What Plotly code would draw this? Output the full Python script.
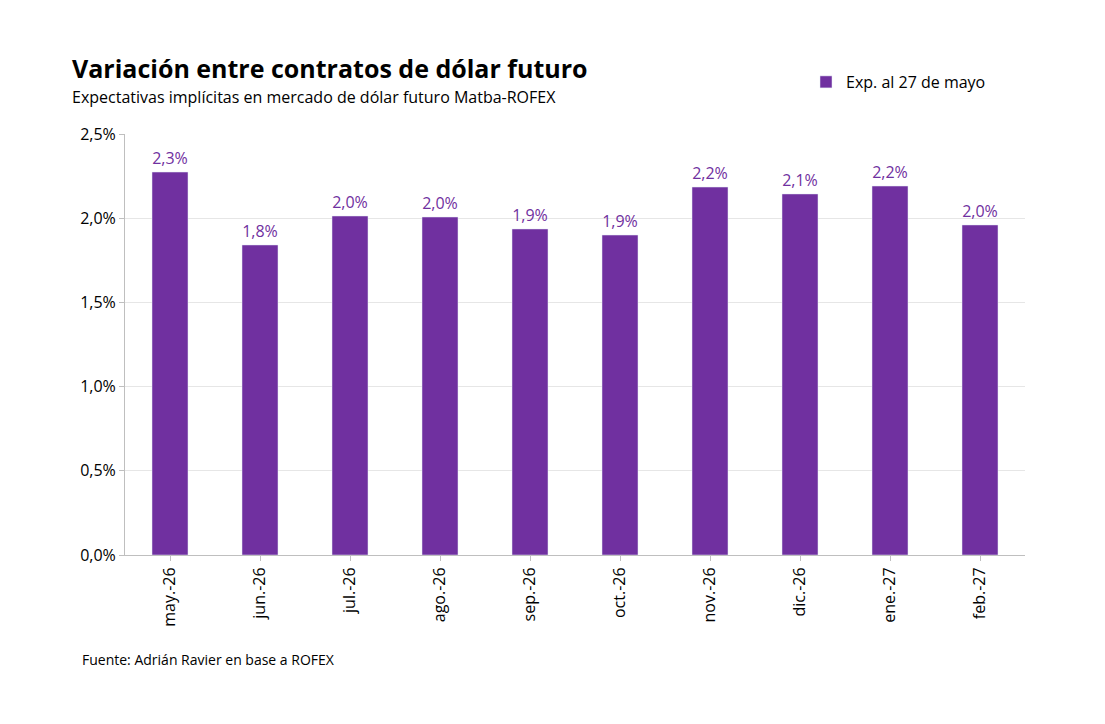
import plotly.graph_objects as go

months = ["may.-26", "jun.-26", "jul.-26", "ago.-26", "sep.-26", "oct.-26",
          "nov.-26", "dic.-26", "ene.-27", "feb.-27"]
variation = [2.274, 1.841, 2.013, 2.007, 1.936, 1.900, 2.185, 2.144, 2.191, 1.960]
labels = ["2,3%", "1,8%", "2,0%", "2,0%", "1,9%", "1,9%", "2,2%", "2,1%", "2,2%", "2,0%"]
tick_vals = [0, 0.5, 1.0, 1.5, 2.0, 2.5]
tick_text = ["0,0%", "0,5%", "1,0%", "1,5%", "2,0%", "2,5%"]

purple = "#7030A0"
fnt = "Open Sans, Lato, sans-serif"

L, R, T, B = 117, 88, 126, 177
pw, ph = 1105 - L - R, 724 - T - B
def px(x): return (x - 8 - L) / pw
def py(y): return (724 - B - (y - 8)) / ph

fig = go.Figure(go.Bar(
    x=months, y=variation, text=labels, textposition="outside",
    textfont=dict(color=purple, size=16, family=fnt),
    marker_color=purple, width=0.4, name="Exp. al 27 de mayo",
    cliponaxis=False, showlegend=True))

fig.update_layout(
    width=1105, height=724, plot_bgcolor="white", paper_bgcolor="white",
    margin=dict(l=L, r=R, t=T, b=B),
    font=dict(family=fnt, color="black", size=16),
    bargap=0.6,
    legend=dict(x=px(806), y=py(82), xanchor="left", yanchor="middle",
                font=dict(size=16)),
    yaxis=dict(range=[0, 2.5], tickvals=tick_vals, ticktext=tick_text,
               showgrid=True, gridcolor="#e6e6e6", zeroline=False,
               showline=True, linecolor="#bfbfbf", ticks="outside",
               tickcolor="#bfbfbf", tickfont=dict(size=16)),
    xaxis=dict(tickangle=-90, showline=True, linecolor="#bfbfbf",
               ticks="outside", tickcolor="#bfbfbf", tickfont=dict(size=16)),
)
notes = [("<b>Variación entre contratos de dólar futuro</b>", 25, 70, 68),
         ("Expectativas implícitas en mercado de dólar futuro Matba-ROFEX", 16, 70, 97),
         ("Fuente: Adrián Ravier en base a ROFEX", 14, 80, 659)]
for text, size, x, y in notes:
    fig.add_annotation(text=text, x=px(x), y=py(y), xref="paper", yref="paper",
                       xanchor="left", yanchor="middle", showarrow=False,
                       font=dict(size=size))
fig.write_html("out.html")
